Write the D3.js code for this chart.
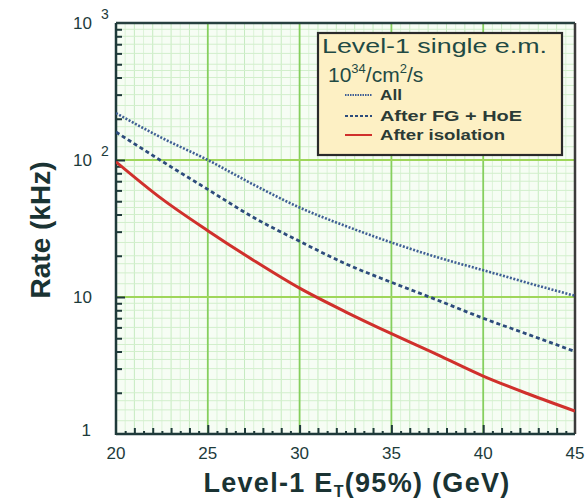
<!DOCTYPE html>
<html>
<head>
<meta charset="utf-8">
<script src="https://cdn.jsdelivr.net/npm/d3@7"></script>
<style>
html,body{margin:0;padding:0;background:#fff;}
svg{display:block;}
text{font-family:"Liberation Sans",Arial,sans-serif;}
</style>
</head>
<body>
<svg id="chart" width="586" height="504"></svg>
<script>
// ---- data ----
const energies = [20, 22.5, 25, 27.5, 30, 32.5, 35, 37.5, 40, 42.5, 45];
const rateAll = [220, 145, 100, 66, 45, 33, 25, 19.5, 15.7, 12.6, 10.2];
const rateFG = [160, 98, 61, 38, 25.5, 17.5, 12.8, 9.5, 7.0, 5.3, 4.0];
const rateIso = [97, 52, 30.5, 18.5, 11.6, 7.8, 5.4, 3.8, 2.65, 1.95, 1.47];
const xTickValues = [20, 25, 30, 35, 40, 45];
const yTickLabels = [{v:1, base:"1", exp:""}, {v:10, base:"10", exp:""}, {v:100, base:"10", exp:"2"}, {v:1000, base:"10", exp:"3"}];
const legendTitle1 = "Level-1 single e.m.";
const legendEntries = ["All", "After FG + HoE", "After isolation"];

const svg = d3.select("#chart");
const X0 = 116, X1 = 575, Y0 = 434, Y1 = 23;
const x = d3.scaleLinear().domain([20, 45]).range([X0, X1]);
const y = d3.scaleLog().domain([1, 1000]).range([Y0, Y1]);

const textCol = "#1d3b3b";

// plot background
svg.append("rect").attr("x", X0).attr("y", Y1).attr("width", X1 - X0).attr("height", Y0 - Y1).attr("fill", "#f6fdf4");

// grid
const g = svg.append("g");
const vMinor = d3.range(20.5, 45, 0.5).filter(v => v % 5 !== 0);
g.selectAll(".vmin").data(vMinor).enter().append("line")
  .attr("x1", d => x(d)).attr("x2", d => x(d)).attr("y1", Y1).attr("y2", Y0)
  .attr("stroke", d => (d % 1 === 0 ? "#c6ebc0" : "#dcf3d8")).attr("stroke-width", 1);
const hMinor = [];
[1, 10, 100].forEach(b => [1.25, 1.5, 1.75, 2, 2.5, 3, 3.5, 4, 4.5, 5, 6, 7, 8, 9].forEach(m => hMinor.push(b * m)));
g.selectAll(".hmin").data(hMinor).enter().append("line")
  .attr("x1", X0).attr("x2", X1).attr("y1", d => y(d)).attr("y2", d => y(d))
  .attr("stroke", "#d2efcc").attr("stroke-width", 1);
g.selectAll(".vmaj").data([25, 30, 35, 40]).enter().append("line")
  .attr("x1", d => x(d)).attr("x2", d => x(d)).attr("y1", Y1).attr("y2", Y0)
  .attr("stroke", "#86cf5e").attr("stroke-width", 1.8);
g.selectAll(".hmaj").data([10, 100]).enter().append("line")
  .attr("x1", X0).attr("x2", X1).attr("y1", d => y(d)).attr("y2", d => y(d))
  .attr("stroke", "#9fd65a").attr("stroke-width", 1.8);

// axes (inward ticks)
const yMinorTicks = [];
[1, 10, 100].forEach(b => [2, 3, 4, 5, 6, 7, 8, 9].forEach(m => yMinorTicks.push(b * m)));
const yAxis = d3.axisRight(y).tickValues(yMinorTicks).tickSize(6).tickFormat("");
const ya = svg.append("g").attr("transform", `translate(${X0},0)`).call(yAxis);
ya.select(".domain").remove();
ya.selectAll("line").attr("stroke", "#1f3a3a").attr("stroke-width", 2);
const yAxMaj = d3.axisRight(y).tickValues([10, 100]).tickSize(9).tickFormat("");
const yb = svg.append("g").attr("transform", `translate(${X0},0)`).call(yAxMaj);
yb.select(".domain").remove();
yb.selectAll("line").attr("stroke", "#1f3a3a").attr("stroke-width", 2);

const xMinorTicks = d3.range(20.5, 45, 0.5).filter(v => v % 5 !== 0);
const xAxis = d3.axisTop(x).tickValues(xMinorTicks).tickSizeInner(0).tickSizeOuter(0).tickFormat("");
const xa = svg.append("g").attr("transform", `translate(0,${Y0})`).call(xAxis);
xa.select(".domain").remove();
xa.selectAll(".tick line").attr("y2", d => (d % 1 === 0 ? -6 : -3)).attr("stroke", "#1f3a3a").attr("stroke-width", 2);
const xAxMaj = d3.axisTop(x).tickValues([25, 30, 35, 40]).tickSize(9).tickFormat("");
const xb = svg.append("g").attr("transform", `translate(0,${Y0})`).call(xAxMaj);
xb.select(".domain").remove();
xb.selectAll("line").attr("stroke", "#1f3a3a").attr("stroke-width", 2);

// frame
svg.append("line").attr("x1", X0).attr("x2", X1).attr("y1", Y1).attr("y2", Y1).attr("stroke", "#27403f").attr("stroke-width", 2.5);
svg.append("line").attr("x1", X1).attr("x2", X1).attr("y1", Y1).attr("y2", Y0).attr("stroke", "#3b3b3b").attr("stroke-width", 2.5);
svg.append("line").attr("x1", X0).attr("x2", X0).attr("y1", Y1).attr("y2", Y0 + 1).attr("stroke", "#1f3a3a").attr("stroke-width", 2.5);
svg.append("line").attr("x1", X0).attr("x2", X1).attr("y1", Y0).attr("y2", Y0).attr("stroke", "#1f3a3a").attr("stroke-width", 2.5);

// tick labels
svg.selectAll(".xl").data(xTickValues).enter().append("text")
  .attr("x", d => x(d)).attr("y", Y0 + 25).attr("text-anchor", "middle")
  .attr("font-size", 17).attr("fill", textCol).text(d => d);
yTickLabels.forEach(t => {
  const ty = y(t.v);
  const tx = t.v === 1 ? 91 : 92;
  svg.append("text").attr("x", tx).attr("y", ty + 6 - (t.v === 1 ? 4 : 0)).attr("text-anchor", "end")
    .attr("font-size", 17).attr("fill", textCol).text(t.base);
  if (t.exp) {
    svg.append("text").attr("x", tx + 9).attr("y", ty - 4).attr("font-size", 14).attr("fill", textCol).text(t.exp);
  }
});

// axis titles
svg.append("text").attr("transform", `translate(50,230) rotate(-90)`)
  .attr("text-anchor", "middle").attr("font-size", 28).attr("font-weight", "bold").attr("fill", "#1a3333")
  .text("Rate (kHz)");
const xt = svg.append("text").attr("x", 357).attr("y", 492).attr("text-anchor", "middle")
  .attr("font-size", 27).attr("font-weight", "bold").attr("letter-spacing", 1.3).attr("fill", "#1a3333");
xt.append("tspan").text("Level-1 E");
xt.append("tspan").attr("font-size", 16).attr("dy", 5).text("T");
xt.append("tspan").attr("dy", -5).text("(95%) (GeV)");

// curves
const line = d3.line().x(d => x(d[0])).y(d => y(d[1])).curve(d3.curveMonotoneX);
svg.append("clipPath").attr("id", "clip").append("rect")
  .attr("x", X0).attr("y", Y1).attr("width", X1 - X0).attr("height", Y0 - Y1);
const series = [
  {vals: rateAll, color: "#3f5f95", w: 2.6, dash: "2,1.6"},
  {vals: rateFG, color: "#2d4c7c", w: 2.8, dash: "4,3"},
  {vals: rateIso, color: "#d0302c", w: 3, dash: null}
];
series.forEach(s => {
  svg.append("path").attr("clip-path", "url(#clip)")
    .datum(energies.map((e, i) => [e, s.vals[i]]))
    .attr("d", line).attr("fill", "none").attr("stroke", s.color)
    .attr("stroke-width", s.w).attr("stroke-dasharray", s.dash);
});

// legend
const L = {x: 318, y: 33, w: 244, h: 122};
svg.append("rect").attr("x", L.x).attr("y", L.y).attr("width", L.w).attr("height", L.h)
  .attr("fill", "#fdf0c4").attr("stroke", "#2a2a2a").attr("stroke-width", 2.2);
svg.append("text").attr("x", L.x + 4).attr("y", L.y + 20).attr("font-size", 21)
  .attr("textLength", 225).attr("lengthAdjust", "spacingAndGlyphs")
  .attr("fill", "#1f4a44").text(legendTitle1);
const t2 = svg.append("text").attr("x", L.x + 10).attr("y", L.y + 49).attr("font-size", 21).attr("fill", "#1f4a44");
t2.append("tspan").text("10");
t2.append("tspan").attr("font-size", 13).attr("dy", -9).text("34");
t2.append("tspan").attr("dy", 9).text("/cm");
t2.append("tspan").attr("font-size", 13).attr("dy", -9).text("2");
t2.append("tspan").attr("dy", 9).text("/s");
const entryY = [95, 116, 135];
const entryW = [22, 142, 125];
legendEntries.forEach((name, i) => {
  const ly = entryY[i];
  const s = series[i];
  svg.append("line").attr("x1", L.x + 27).attr("x2", L.x + 54).attr("y1", ly).attr("y2", ly)
    .attr("stroke", s.color).attr("stroke-width", i === 2 ? 2 : 1.8).attr("stroke-dasharray", i === 0 ? "1.5,1" : (i === 1 ? "3,2" : null));
  svg.append("text").attr("x", L.x + 62).attr("y", ly + 5).attr("font-size", 14)
    .attr("textLength", entryW[i]).attr("lengthAdjust", "spacingAndGlyphs")
    .attr("fill", "#2b3b36").attr("font-weight", "bold").text(name);
});
</script>
</body>
</html>
